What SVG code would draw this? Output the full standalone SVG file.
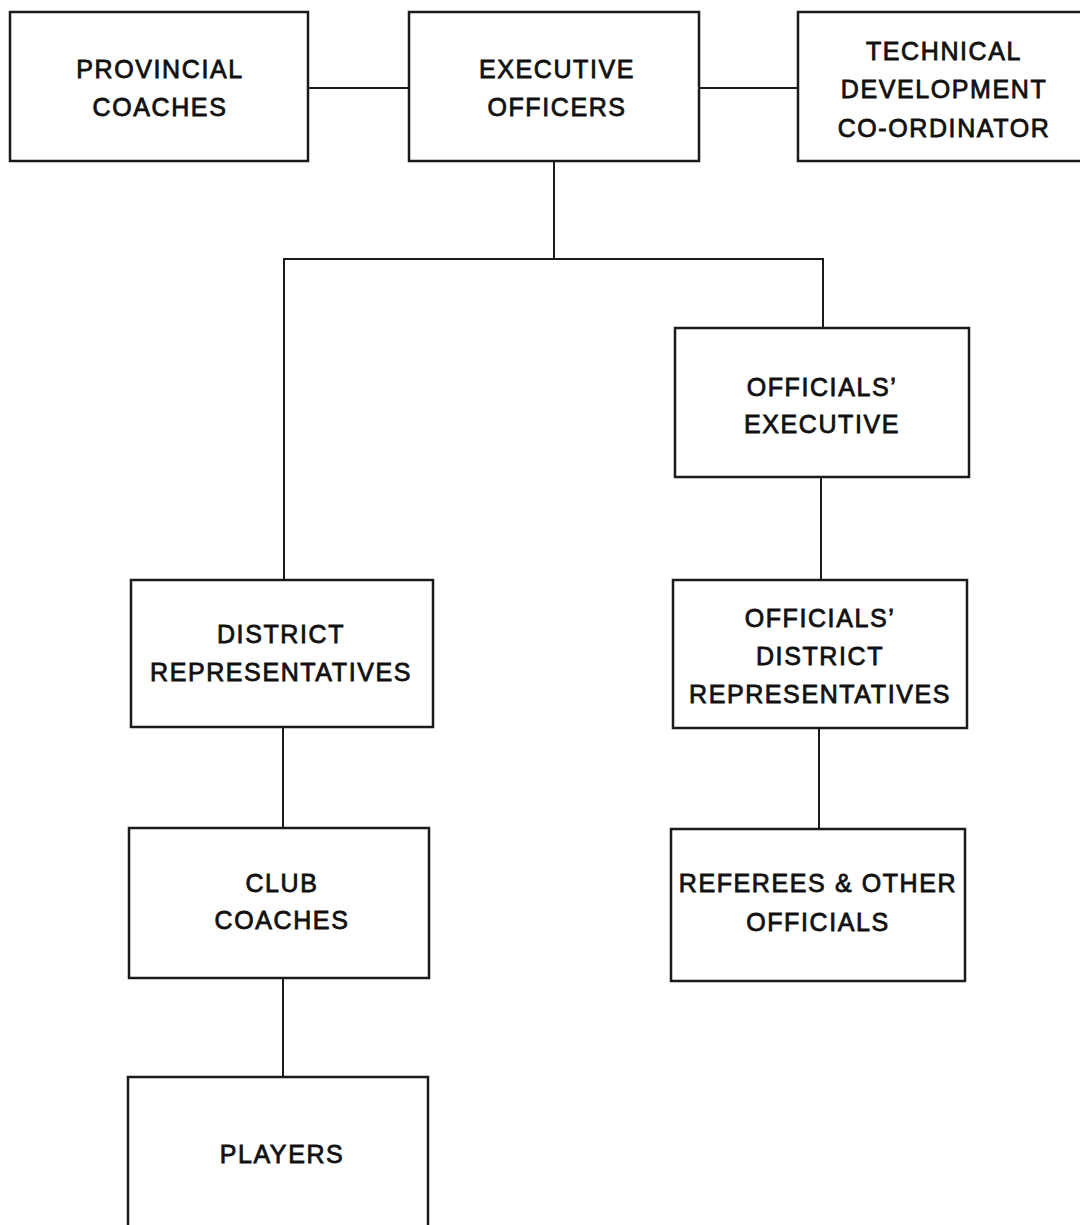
<svg xmlns="http://www.w3.org/2000/svg" width="1080" height="1225" viewBox="0 0 1080 1225">
<style>
.box{fill:#fff;stroke:#1a1a1a;stroke-width:2.5}
.ln{fill:none;stroke:#1a1a1a;stroke-width:2}
text{font-family:"Liberation Sans",Arial,sans-serif;font-size:25px;letter-spacing:1.6px;fill:#111;stroke:#111;stroke-width:0.8;text-anchor:middle}
</style>
<rect width="1080" height="1225" fill="#fff"/>
<g id="connectors">
<line class="ln" x1="308" y1="88" x2="409" y2="88"/>
<line class="ln" x1="699" y1="88" x2="798" y2="88"/>
<polyline class="ln" points="554,161 554,259"/>
<polyline class="ln" points="284,580 284,259 823,259 823,328"/>
<line class="ln" x1="821" y1="477" x2="821" y2="580"/>
<line class="ln" x1="283" y1="727" x2="283" y2="828"/>
<line class="ln" x1="819" y1="728" x2="819" y2="829"/>
<line class="ln" x1="283" y1="978" x2="283" y2="1077"/>
</g>
<g id="provincial-coaches">
<rect class="box" x="10" y="12" width="298" height="149"/>
<text x="160" y="78">PROVINCIAL</text>
<text x="160" y="116">COACHES</text>
</g>
<g id="executive-officers">
<rect class="box" x="409" y="12" width="290" height="149"/>
<text x="557" y="78">EXECUTIVE</text>
<text x="557" y="116">OFFICERS</text>
</g>
<g id="technical-development">
<rect class="box" x="798" y="12" width="292" height="149"/>
<text x="944" y="60">TECHNICAL</text>
<text x="944" y="98">DEVELOPMENT</text>
<text x="944" y="137">CO-ORDINATOR</text>
</g>
<g id="officials-executive">
<rect class="box" x="675" y="328" width="294" height="149"/>
<text x="822" y="396">OFFICIALS’</text>
<text x="822" y="433">EXECUTIVE</text>
</g>
<g id="district-representatives">
<rect class="box" x="131" y="580" width="302" height="147"/>
<text x="281" y="643">DISTRICT</text>
<text x="281" y="681">REPRESENTATIVES</text>
</g>
<g id="officials-district-representatives">
<rect class="box" x="673" y="580" width="294" height="148"/>
<text x="820" y="627">OFFICIALS’</text>
<text x="820" y="665">DISTRICT</text>
<text x="820" y="703">REPRESENTATIVES</text>
</g>
<g id="club-coaches">
<rect class="box" x="129" y="828" width="300" height="150"/>
<text x="282" y="892">CLUB</text>
<text x="282" y="929">COACHES</text>
</g>
<g id="referees-other-officials">
<rect class="box" x="671" y="829" width="294" height="152"/>
<text x="818" y="892">REFEREES &amp; OTHER</text>
<text x="818" y="931">OFFICIALS</text>
</g>
<g id="players">
<rect class="box" x="128" y="1077" width="300" height="170"/>
<text x="282" y="1163">PLAYERS</text>
</g>
</svg>
